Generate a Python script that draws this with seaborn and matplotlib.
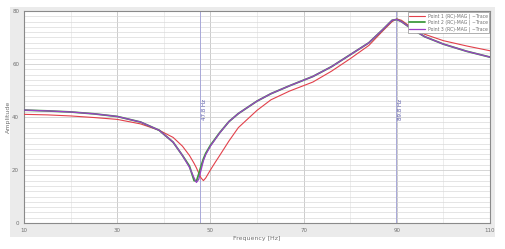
import numpy as np
import pandas as pd
import matplotlib
matplotlib.use("Agg")
import matplotlib.pyplot as plt
from matplotlib.patches import Rectangle
from matplotlib.ticker import MultipleLocator
import seaborn as sns

# ---- data ----
freq = [10, 15, 20, 25, 30, 35, 39, 42, 44, 45.5, 46.5, 47, 47.5, 48, 48.5, 49,
        50, 51, 52, 54, 56, 60, 63, 67, 72, 76, 80, 84, 87, 89, 90, 91, 93, 96,
        100, 105, 110]
red_vals = [41.0, 40.8, 40.4, 39.8, 39.1, 37.4, 35.0, 32.3, 29.0, 25.5, 22.5, 20.8,
            18.8, 17.0, 16.0, 17.0, 20.0, 22.8, 25.5, 31.0, 36.0, 42.5, 46.5, 49.8,
            53.2, 57.3, 62.0, 67.0, 72.5, 76.0, 77.0, 76.5, 74.0, 71.2, 68.8, 66.8, 65.0]
green_vals = [42.6, 42.3, 41.9, 41.2, 40.2, 38.1, 35.0, 30.5, 25.5, 21.5, 16.0, 15.8,
              18.5, 21.5, 24.2, 26.3, 29.3, 31.7, 34.1, 38.3, 41.3, 46.0, 48.8, 51.8,
              55.3, 59.0, 63.5, 68.0, 73.0, 76.5, 76.8, 76.0, 73.5, 70.3, 67.5, 64.8, 62.6]
purple_vals = [42.6, 42.3, 41.9, 41.2, 40.2, 38.1, 35.0, 30.5, 25.5, 21.0, 17.0, 15.3,
               16.5, 20.0, 23.5, 25.8, 29.0, 31.5, 34.0, 38.3, 41.3, 46.0, 48.8, 51.8,
               55.3, 59.0, 63.5, 68.0, 73.0, 76.5, 76.8, 76.0, 73.5, 70.3, 67.5, 64.8, 62.6]
series_names = ["Point 1 (RC)-MAG | ~Trace",
                "Point 2 (RC)-MAG | ~Trace",
                "Point 3 (RC)-MAG | ~Trace"]
series_colors = ["#e2404a", "#3f9a3f", "#9a3fc6"]
series_widths = [0.8, 1.3, 0.9]
x_ticks = [10, 30, 50, 70, 90, 110]
y_ticks = [0, 20, 40, 60, 80]
markers = [47.8, 89.8]
marker_labels = ["47.8 Hz", "89.8 Hz"]

df = pd.DataFrame({
    "Frequency": freq * 3,
    "Amplitude": red_vals + green_vals + purple_vals,
    "Series": [series_names[0]] * len(freq) + [series_names[1]] * len(freq)
              + [series_names[2]] * len(freq),
})

sns.set_style("white")
plt.rcParams['font.family'] = ['DejaVu Sans']

fig = plt.figure(figsize=(5.05, 2.49), dpi=100)
fig.patch.set_facecolor("white")
fig.patches.append(Rectangle((10 / 505, 1 - 237 / 249), 485 / 505, 230 / 249,
                             transform=fig.transFigure, facecolor="#ebebeb",
                             edgecolor="none", zorder=-10))
ax = fig.add_axes([24 / 505, 1 - 223 / 249, 466 / 505, 212 / 249])
ax.set_facecolor("white")

order = [1, 0, 2]
for i in order:
    sub = df[df["Series"] == series_names[i]]
    sns.lineplot(data=sub, x="Frequency", y="Amplitude", ax=ax,
                 color=series_colors[i], linewidth=series_widths[i],
                 label=series_names[i], zorder=3 + i, sort=False)

ax.set_xlim(10, 110)
ax.set_ylim(0, 80)
ax.set_xticks(x_ticks)
ax.set_yticks(y_ticks)
ax.xaxis.set_minor_locator(MultipleLocator(10))
ax.yaxis.set_minor_locator(MultipleLocator(2))
ax.grid(which="major", axis="x", color="#c4c4c4", linewidth=0.6)
ax.grid(which="minor", axis="x", color="#e6e6e6", linewidth=0.5)
ax.grid(which="major", axis="y", color="#d0d0d0", linewidth=0.6)
ax.grid(which="minor", axis="y", color="#dadada", linewidth=0.5)
ax.set_axisbelow(True)

for s in ax.spines.values():
    s.set_color("#8a8a8a")
    s.set_linewidth(0.8)
ax.tick_params(axis="both", which="major", labelsize=4, colors="#707070",
               length=2, width=0.5, pad=1.5)
ax.tick_params(axis="both", which="minor", length=0)

ax.set_xlabel("Frequency [Hz]", fontsize=4.5, color="#707070", labelpad=2)
ax.set_ylabel("Amplitude", fontsize=4.5, color="#707070", labelpad=1)

for m, lab in zip(markers, marker_labels):
    ax.axvline(m, color="#a8a8d8", linewidth=0.7, zorder=2)
    ax.text(m + 0.5, 43, lab, rotation=90, fontsize=4, color="#5a5aa8",
            ha="left", va="center", zorder=6)

handles, labels = ax.get_legend_handles_labels()
hmap = dict(zip(labels, handles))
leg = ax.legend([hmap[n] for n in series_names], series_names,
                loc="upper right", fontsize=3.3, frameon=True, fancybox=False,
                edgecolor="#909090", framealpha=1, borderpad=0.3,
                handlelength=3.5, handletextpad=0.6, labelspacing=0.25,
                borderaxespad=0.2)
leg.get_frame().set_linewidth(0.5)
for t in leg.get_texts():
    t.set_color("#707070")

fig.savefig("out.png", dpi=100, facecolor=fig.get_facecolor())
